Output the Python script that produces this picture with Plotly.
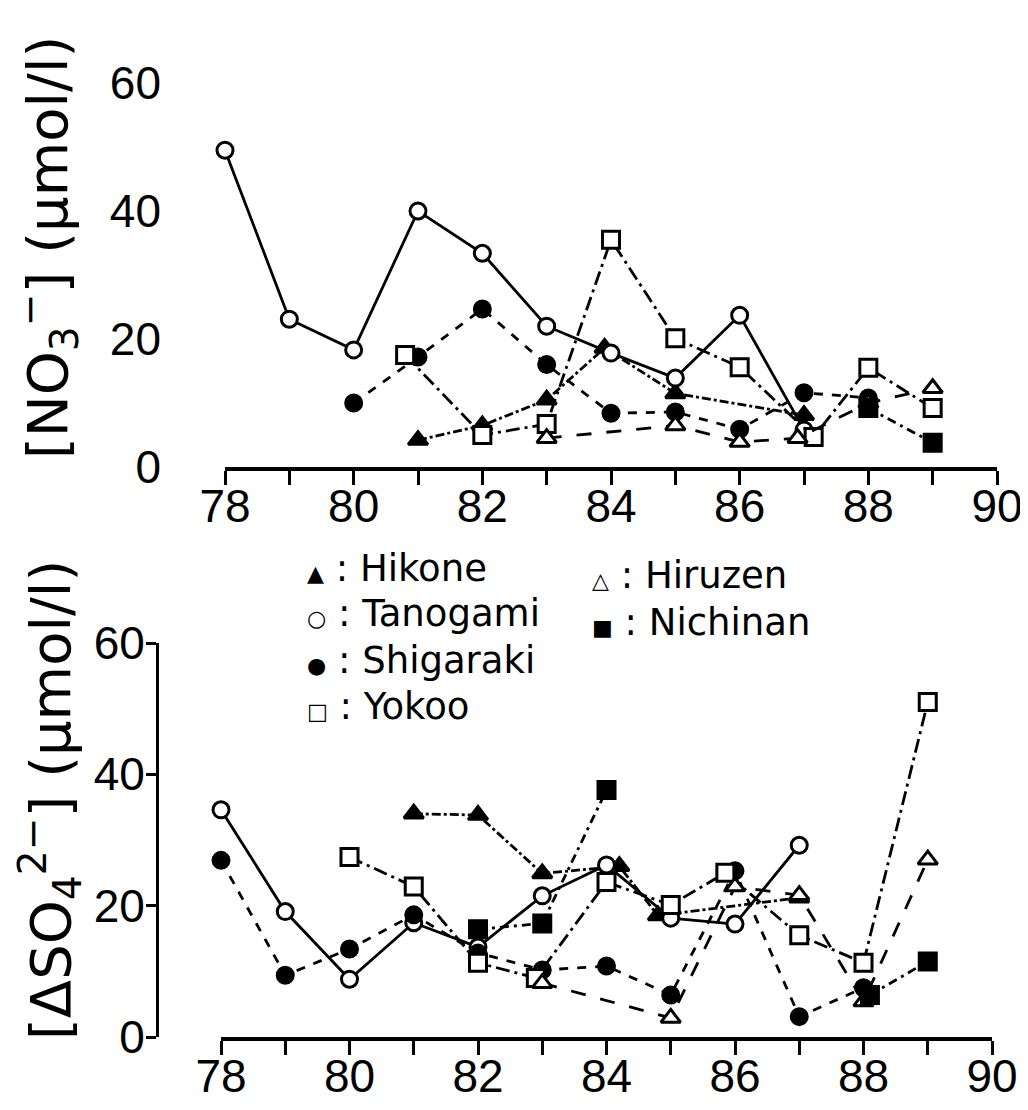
import plotly.graph_objects as go

# ---------------- data ----------------
# Upper panel: [NO3-] (umol/l)
hikone_no3_x = [81, 82, 83, 83.9, 85, 87]
hikone_no3_y = [4.2, 6.5, 10.5, 18.6, 11.5, 8.1]
tanogami_no3_x = [78, 79, 80, 81, 82, 83, 84, 85, 86, 87]
tanogami_no3_y = [49.5, 23.1, 18.3, 40.0, 33.4, 22.0, 17.8, 13.9, 23.7, 5.8]
shigaraki_no3_x = [80, 81, 82, 83, 84, 85, 86, 87, 88]
shigaraki_no3_y = [10.0, 17.2, 24.7, 16.0, 8.4, 8.6, 5.9, 11.6, 10.8]
yokoo_no3_x = [80.8, 82, 83, 84, 85, 86, 87.15, 88, 89]
yokoo_no3_y = [17.5, 5.0, 6.7, 35.5, 20.1, 15.6, 4.7, 15.5, 9.2]
hiruzen_no3_x = [83, 85, 86, 86.9, 88, 89]
hiruzen_no3_y = [4.5, 6.5, 3.9, 4.5, 10.0, 12.3]
nichinan_no3_x = [88, 89]
nichinan_no3_y = [9.2, 3.8]

# Lower panel: [dSO4 2-] (umol/l)
hikone_so4_x = [81, 82, 83, 84.2, 84.8, 87]
hikone_so4_y = [34.0, 33.8, 24.9, 26.0, 18.5, 21.2]
tanogami_so4_x = [78, 79, 80, 81, 82, 83, 84, 85, 86, 87]
tanogami_so4_y = [34.6, 19.1, 8.8, 17.4, 13.7, 21.5, 26.2, 18.1, 17.2, 29.2]
shigaraki_so4_x = [78, 79, 80, 81, 82, 83, 84, 85, 86, 87, 88]
shigaraki_so4_y = [26.9, 9.4, 13.4, 18.6, 12.8, 10.2, 10.8, 6.4, 25.3, 3.1, 7.5]
yokoo_so4_x = [80, 81, 82, 82.9, 84, 85, 85.85, 87, 88, 89]
yokoo_so4_y = [27.4, 22.9, 11.3, 9.0, 23.6, 20.1, 25.0, 15.5, 11.3, 51.0]
hiruzen_so4_x = [83, 85, 86, 87, 88, 89]
hiruzen_so4_y = [8.2, 2.9, 22.9, 21.6, 5.4, 27.0]
nichinan_so4_x = [82, 83, 84, 85, 88.1, 89]
nichinan_so4_y = [16.4, 17.3, 37.6, None, 6.4, 11.5]

x_ticks = list(range(78, 91))
x_tick_text = [str(v) if v % 2 == 0 else "" for v in x_ticks]
y_ticks = [0, 20, 40, 60]

# ---------------- layout helpers ----------------
W, H, OFF = 1020, 1102, 8


def px(x):
    return (x - OFF) / W


def py(y):
    return 1 - (y - OFF) / H


styles = {
    "Hikone": dict(symbol="triangle-up", fill="black", dash="dashdot"),
    "Tanogami": dict(symbol="circle", fill="white", dash="solid"),
    "Shigaraki": dict(symbol="circle", fill="black", dash="dash"),
    "Yokoo": dict(symbol="square", fill="white", dash="14px,5px,3px,5px"),
    "Hiruzen": dict(symbol="triangle-up", fill="white", dash="longdash"),
    "Nichinan": dict(symbol="square", fill="black", dash="9px,5px,3px,5px"),
}

fig = go.Figure()

panels = [
    ("x", "y", [
        ("Hikone", hikone_no3_x, hikone_no3_y),
        ("Tanogami", tanogami_no3_x, tanogami_no3_y),
        ("Shigaraki", shigaraki_no3_x, shigaraki_no3_y),
        ("Yokoo", yokoo_no3_x, yokoo_no3_y),
        ("Hiruzen", hiruzen_no3_x, hiruzen_no3_y),
        ("Nichinan", nichinan_no3_x, nichinan_no3_y),
    ]),
    ("x2", "y2", [
        ("Hikone", hikone_so4_x, hikone_so4_y),
        ("Tanogami", tanogami_so4_x, tanogami_so4_y),
        ("Shigaraki", shigaraki_so4_x, shigaraki_so4_y),
        ("Yokoo", yokoo_so4_x, yokoo_so4_y),
        ("Hiruzen", hiruzen_so4_x, hiruzen_so4_y),
        ("Nichinan", nichinan_so4_x, nichinan_so4_y),
    ]),
]

for xa, ya, series in panels:
    for name, xs, ys in series:
        st = styles[name]
        fig.add_trace(go.Scatter(
            x=xs, y=ys, xaxis=xa, yaxis=ya, mode="lines+markers",
            name=name, showlegend=False, cliponaxis=False, connectgaps=False,
            line=dict(color="black", width=2.8, dash=st["dash"]),
            marker=dict(symbol=st["symbol"], size=16 if "circle" in st["symbol"] else 17,
                        color=st["fill"], line=dict(color="black", width=3)),
        ))

axis_font = dict(family="Liberation Sans, Arial, sans-serif", size=46, color="black")

xcommon = dict(range=[78, 90], tickmode="array", tickvals=x_ticks, ticktext=x_tick_text,
               showline=True, linewidth=4, linecolor="black", ticks="outside",
               ticklen=14, tickwidth=3, tickcolor="black", showgrid=False,
               zeroline=False, tickfont=axis_font, fixedrange=True, automargin=False,
               ticklabelstandoff=-18)
ycommon = dict(range=[0, 60], tickmode="array", tickvals=y_ticks,
               showgrid=False, zeroline=False, tickfont=axis_font, anchor="free",
               position=px(157), fixedrange=True, automargin=False)

fig.update_layout(
    template="none",
    width=W, height=H,
    margin=dict(l=0, r=0, t=0, b=0, autoexpand=False),
    paper_bgcolor="white", plot_bgcolor="white",
    xaxis=dict(domain=[px(225), px(997)], anchor="y", **xcommon),
    # upper panel: numbers only, no drawn vertical axis
    yaxis=dict(domain=[py(467), py(83)], showline=False, ticks="",
               ticklabelstandoff=-4, **ycommon),
    xaxis2=dict(domain=[px(221), px(992)], anchor="y2", **xcommon),
    # lower panel: vertical axis line with outside ticks
    yaxis2=dict(domain=[py(1037), py(643)], showline=True, linewidth=3,
                linecolor="black", ticks="outside", ticklen=10, tickwidth=3,
                tickcolor="black", ticklabelstandoff=-8, **ycommon),
)

title_font = dict(family="DejaVu Sans, sans-serif", size=56, color="black")
fig.add_annotation(text="[NO<sub>3</sub><sup>−</sup>] (μmol/l)", textangle=-90,
                   x=px(47), y=py(248), xref="paper", yref="paper",
                   xanchor="center", yanchor="middle",
                   showarrow=False, font=title_font)
fig.add_annotation(text="[ΔSO<sub>4</sub><sup>2−</sup>] (μmol/l)", textangle=-90,
                   x=px(50), y=py(800), xref="paper", yref="paper",
                   xanchor="center", yanchor="middle",
                   showarrow=False, font=title_font)

legend_font = dict(family="DejaVu Sans, sans-serif", size=37, color="black")
legend_items = [
    ("▲", "Hikone", 305, 568),
    ("○", "Tanogami", 305, 613),
    ("●", "Shigaraki", 305, 660),
    ("□", "Yokoo", 305, 706),
    ("△", "Hiruzen", 590, 575),
    ("■", "Nichinan", 590, 622),
]
for sym, name, lx, ly in legend_items:
    fig.add_annotation(text=f"<span style='font-size:22px'>{sym}</span> : {name}",
                       x=px(lx), y=py(ly), xref="paper", yref="paper",
                       xanchor="left", yanchor="middle", showarrow=False,
                       font=legend_font)

fig.write_html("out.html")
